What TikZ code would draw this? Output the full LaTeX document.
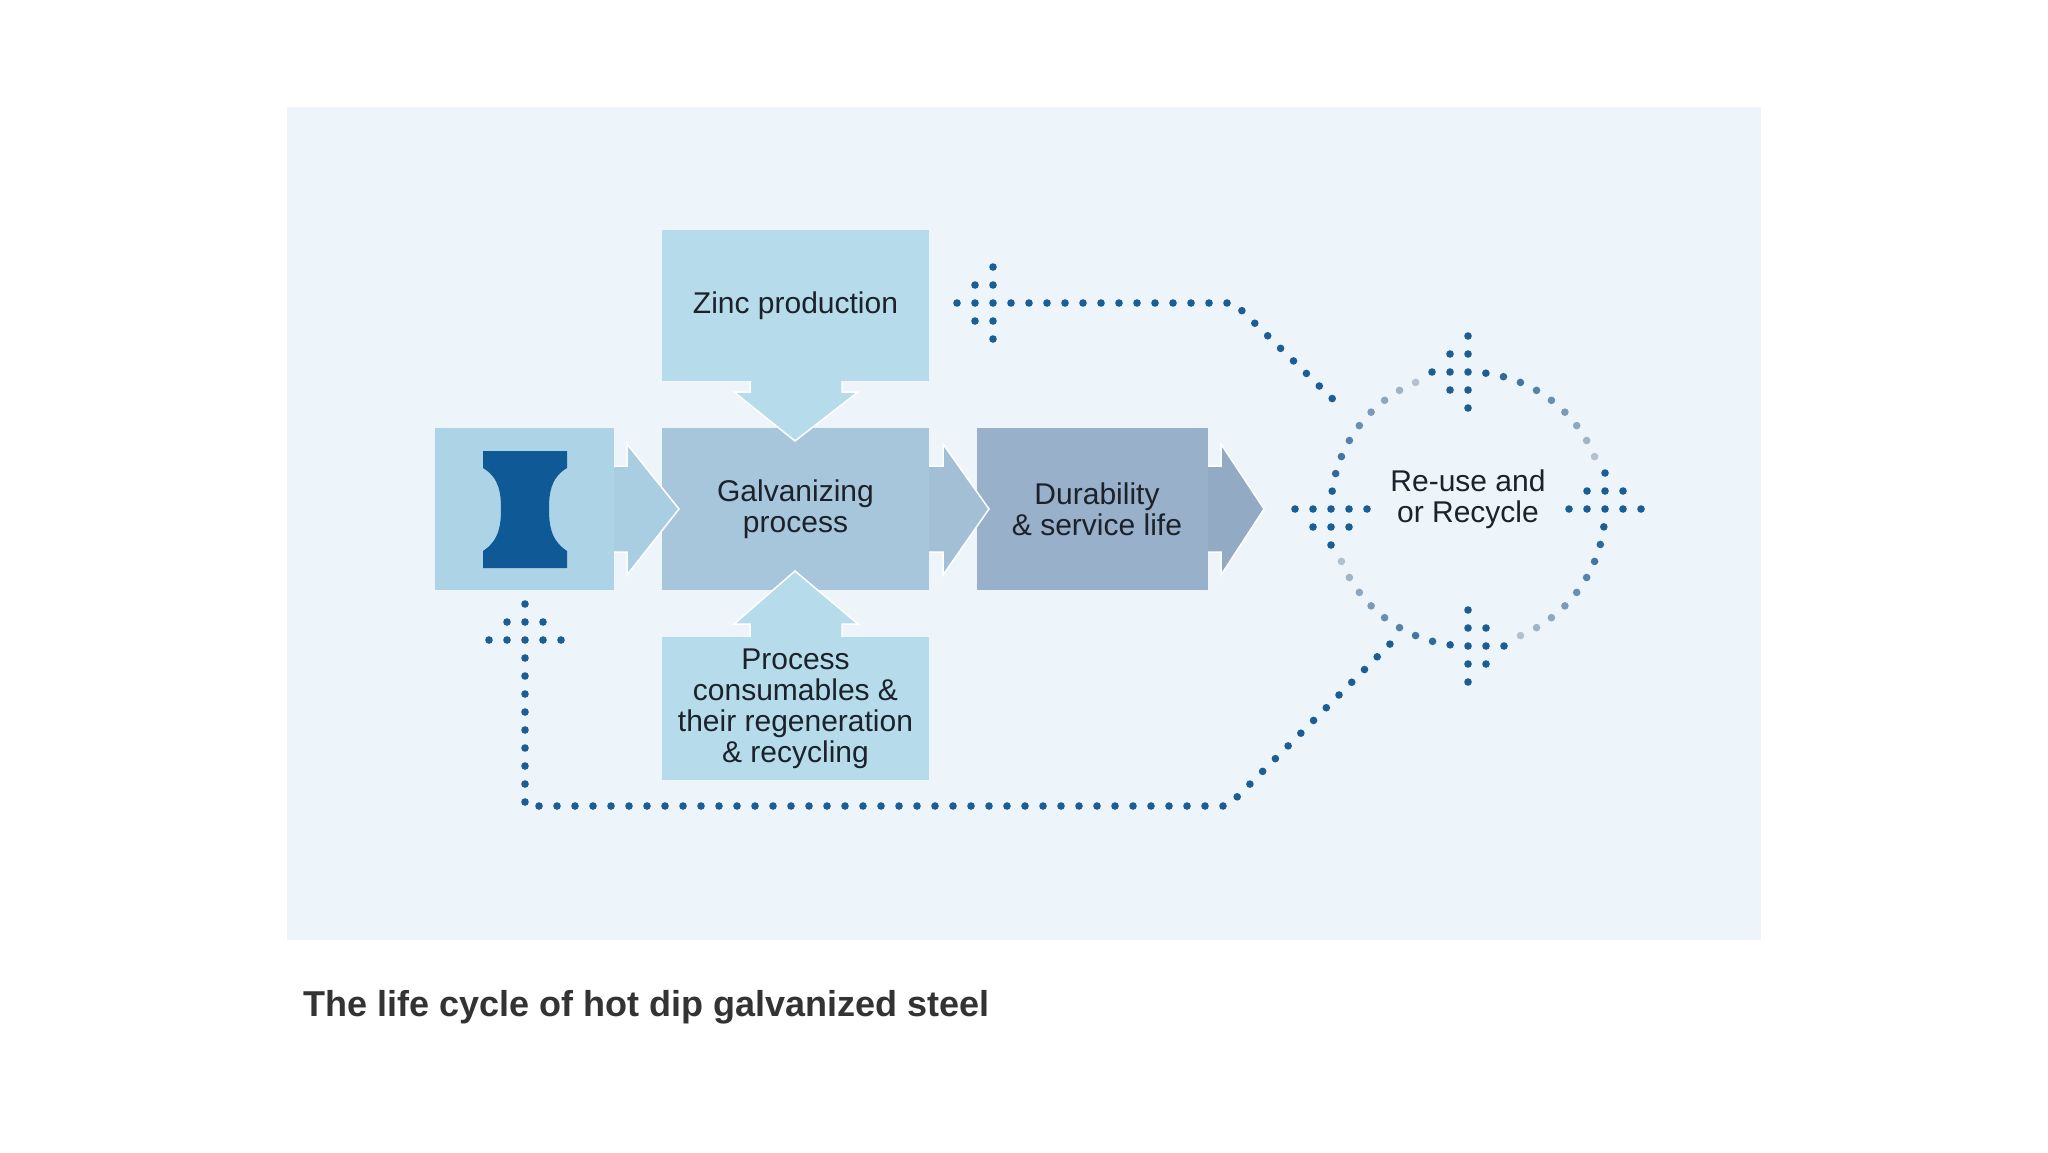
\documentclass[tikz,border=0pt]{standalone}
\usepackage{fontspec}
\setmainfont{Liberation Sans}
\definecolor{panel}{HTML}{EDF4FA}
\definecolor{zincc}{HTML}{B6DCEB}
\definecolor{steelc}{HTML}{ADD3E6}
\definecolor{galvc}{HTML}{A8C6DB}
\definecolor{durc}{HTML}{98B0C9}
\definecolor{arr1}{HTML}{A9CEE2}
\definecolor{arr2}{HTML}{A3BFD6}
\definecolor{arr3}{HTML}{92AAC4}
\definecolor{beam}{HTML}{0F5A96}
\definecolor{dotc}{HTML}{1B5E95}
\definecolor{fadec}{HTML}{C8CDD4}
\definecolor{txt}{HTML}{1C222B}
\definecolor{cap}{HTML}{333333}
\tikzset{
  box/.style={fill=#1,draw=none},
  arr/.style={fill=#1,draw=white,line width=1.5pt,line join=miter},
  lbl/.style={text=txt,align=center,font=\fontsize{30}{31}\selectfont,inner sep=0pt},
  dotline/.style={draw=dotc,line width=7.6pt,line cap=round,dash pattern=on 0pt off 18pt},
}
\newcommand{\dothead}[3]{%
  \pgfmathsetmacro\dhx{#1}\pgfmathsetmacro\dhy{#2}\pgfmathsetmacro\dhr{#3}%
  \begin{scope}[shift={(\dhx,\dhy)},rotate=\dhr]
    \foreach \j in {-2,...,2}{\fill[dotc] (0,\j*18) circle (3.8);}
    \foreach \j in {-1,0,1}{\fill[dotc] (18,\j*18) circle (3.8);}
    \fill[dotc] (36,0) circle (3.8);
  \end{scope}}
\begin{document}
\begin{tikzpicture}[x=1pt,y=-1pt]
\useasboundingbox (0,0) rectangle (2048,1152);
\fill[white] (0,0) rectangle (2048,1152);
\fill[panel] (287,107) rectangle (1761,940);
% boxes
\node[box=zincc,minimum width=267,minimum height=151,inner sep=0] (zinc) at (795.5,305.5) {};
\node[box=steelc,minimum width=179,minimum height=162,inner sep=0] (steel) at (524.5,509) {};
\node[box=galvc,minimum width=267,minimum height=162,inner sep=0] (galv) at (795.5,509) {};
\node[box=durc,minimum width=231,minimum height=162,inner sep=0] (dur) at (1092.5,509) {};
\node[box=zincc,minimum width=267,minimum height=143,inner sep=0] (proc) at (795.5,708.5) {};
% I-beam
\fill[beam] (483,451) -- (567,451) -- (567,468) .. controls (550,478) and (549,495) .. (549,509)
  .. controls (549,523) and (550,540) .. (567,551) -- (567,568) -- (483,568) -- (483,551)
  .. controls (500,540) and (501,523) .. (501,509) .. controls (501,495) and (500,478) .. (483,468) -- cycle;
% block arrows
\draw[arr=arr1] (614,466) -- (627,466) -- (627,444) -- (679,509) -- (627,575) -- (627,552) -- (614,552);
\draw[arr=arr2] (929,466) -- (943,466) -- (943,444) -- (989,509) -- (943,575) -- (943,552) -- (929,552);
\draw[arr=arr3] (1208,466) -- (1221,466) -- (1221,444) -- (1264,509) -- (1221,575) -- (1221,552) -- (1208,552);
\draw[arr=zincc] (750,381) -- (750,392) -- (734,392) -- (795,441) -- (858,392) -- (842,392) -- (842,381);
\draw[arr=zincc] (750,637) -- (750,624) -- (734,624) -- (795,571) -- (858,624) -- (842,624) -- (842,637);
% labels
\node[lbl] (tz) at (zinc) {Zinc production};
\node[lbl] (tg) at (galv) {Galvanizing\\process};
\node[lbl] (td) at (1097,509) {Durability\\\& service life};
\node[lbl] (tp) at (proc) {Process\\consumables \&\\their regeneration\\\& recycling};
\node[lbl] (tr) at (1468,499) {Re-use and\\or Recycle};
\node[anchor=base west,text=cap,font=\bfseries\fontsize{36}{40}\selectfont,inner sep=0] (caption) at (303,1016) {The life cycle of hot dip galvanized steel};
% dotted circle
\coordinate (C) at (1468,509);
\foreach \t in {0,90,180,270}{
  \dothead{1468+137*cos(\t)}{509-137*sin(\t)}{\t+90}
  \foreach \k in {0,...,8}{
    \pgfmathsetmacro\a{\t+22.5+7.5*\k}
    \pgfmathtruncatemacro\p{12+88*\k/8}
    \fill[dotc!\p!fadec] ({1468+137*cos(\a)},{509-137*sin(\a)}) circle (3.8);
  }
}
% connectors
\dothead{993}{303}{180}
\coordinate (t0) at (1011,303);
\coordinate (t1) at (1234,303);
\coordinate (t2) at (1345,411);
\draw[dotline] (t0) -- (t1) -- (t2);
\dothead{525}{640}{90}
\coordinate (b0) at (525,658);
\coordinate (b1) at (525,806);
\coordinate (b2) at (1228,806);
\coordinate (b3) at (1392,642);
\draw[dotline] (b0) -- (b1) -- (b2) -- (b3);
\end{tikzpicture}
\end{document}
